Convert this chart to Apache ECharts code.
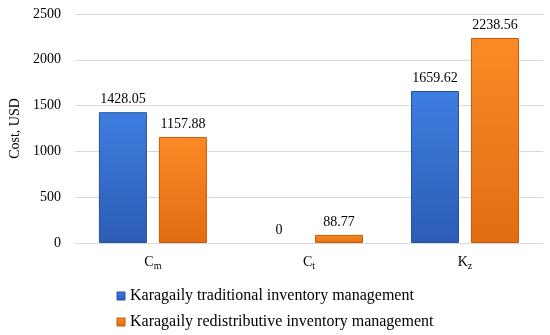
<!DOCTYPE html>
<html><head><meta charset="utf-8">
<script src="https://cdn.jsdelivr.net/npm/echarts@6/dist/echarts.min.js"></script>
<style>html,body{margin:0;padding:0;background:#fff}#c{width:550px;height:335px}</style>
</head><body><div id="c"></div>
<script>
var categories = ['{b|C}{s|m}', '{b|C}{s|t}', '{b|K}{s|z}'];
var traditional = [1428.05, 0, 1659.62];
var redistributive = [1157.88, 88.77, 2238.56];
var seriesNames = ['Karagaily traditional inventory management', 'Karagaily redistributive inventory management'];
var yTicks = [0, 500, 1000, 1500, 2000, 2500];

var font = 'Liberation Serif';
function grad(c1, c2) {
  return new echarts.graphic.LinearGradient(0, 0, 0, 1, [{offset: 0, color: c1}, {offset: 1, color: c2}]);
}
var blueFill = ['#3d7ee0', '#2c5cb5'], blueBorder = '#27509c';
var orangeFill = ['#fb8a26', '#e26d12'], orangeBorder = '#c35c0d';
function items(arr) {
  return arr.map(function (v) { return v === 0 ? {value: v, itemStyle: {borderWidth: 0}} : v; });
}
function legendEntry(name, fill, border, cy) {
  return [
    {type: 'rect', shape: {x: 117, y: cy - 4, width: 8, height: 8},
     style: {fill: grad(fill[0], fill[1]), stroke: border, lineWidth: 1}},
    {type: 'text', x: 130, y: cy, style: {text: name, font: '16px "Liberation Serif", serif',
     fontFamily: font, fontSize: 16,
     fill: '#000', verticalAlign: 'middle'}}
  ];
}
var chart = echarts.init(document.getElementById('c'));
chart.setOption({
  animation: false,
  textStyle: {fontFamily: font},
  grid: {left: 72, right: 7, top: 14, bottom: 92},
  graphic: legendEntry(seriesNames[0], blueFill, blueBorder, 296)
    .concat(legendEntry(seriesNames[1], orangeFill, orangeBorder, 322)),
  xAxis: {
    type: 'category', data: categories,
    axisLine: {lineStyle: {color: '#d9d9d9'}},
    axisTick: {show: false},
    axisLabel: {margin: 10, rich: {
      b: {fontFamily: font, fontSize: 14, color: '#000'},
      s: {fontFamily: font, fontSize: 10, color: '#000', verticalAlign: 'bottom', padding: [8, 0, 0, 0]}
    }}
  },
  yAxis: {
    type: 'value', min: 0, max: 2500, interval: 500,
    name: 'Cost, USD', nameLocation: 'middle', nameGap: 50,
    nameTextStyle: {fontFamily: font, fontSize: 14, color: '#000'},
    axisLabel: {fontFamily: font, fontSize: 14, color: '#000', margin: 14,
      formatter: function (v) { return String(v); }},
    splitLine: {lineStyle: {color: '#d9d9d9'}}
  },
  series: [
    {name: seriesNames[0], type: 'bar', data: items(traditional), barWidth: 48, barGap: '25%',
     itemStyle: {color: grad(blueFill[0], blueFill[1]), borderColor: blueBorder, borderWidth: 1},
     label: {show: true, position: 'top', distance: 6, fontFamily: font, fontSize: 14, color: '#000'}},
    {name: seriesNames[1], type: 'bar', data: items(redistributive), barWidth: 48,
     itemStyle: {color: grad(orangeFill[0], orangeFill[1]), borderColor: orangeBorder, borderWidth: 1},
     label: {show: true, position: 'top', distance: 6, fontFamily: font, fontSize: 14, color: '#000'}}
  ]
});
</script></body></html>
